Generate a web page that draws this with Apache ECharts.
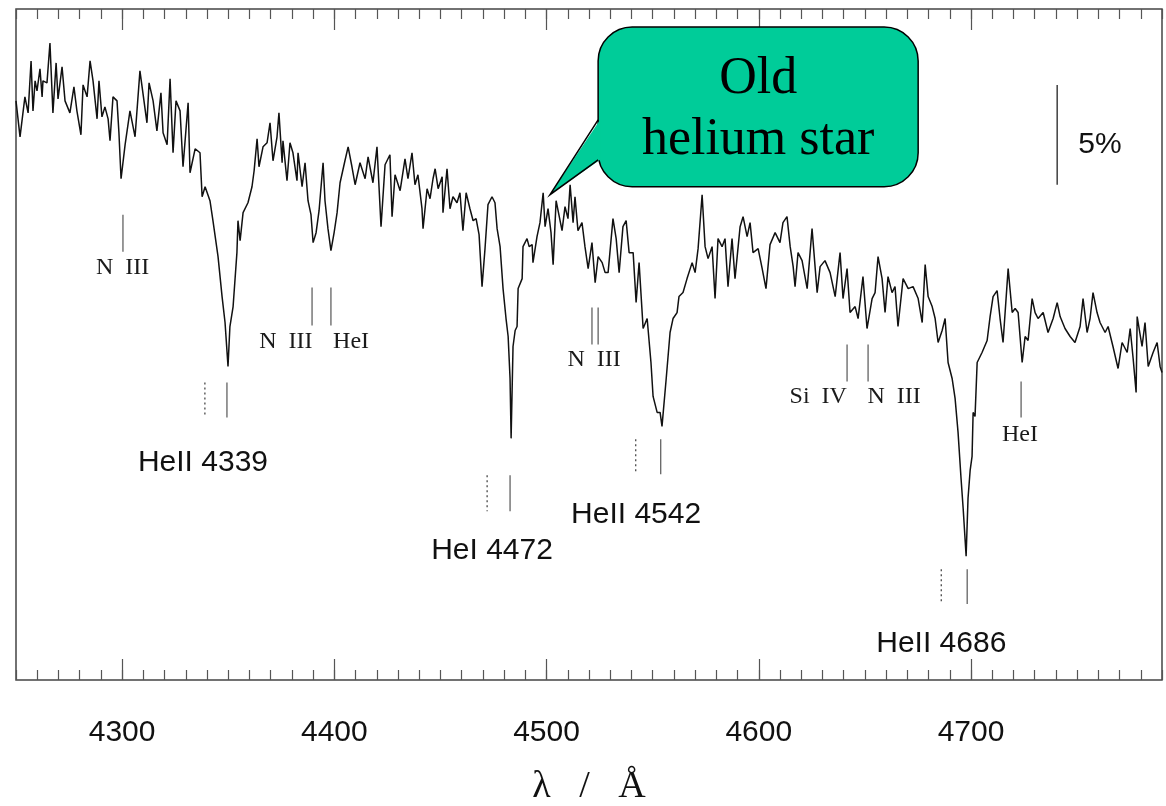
<!DOCTYPE html>
<html>
<head>
<meta charset="utf-8">
<script src="https://cdn.jsdelivr.net/npm/echarts@6/dist/echarts.min.js"></script>
<style>
html,body{margin:0;padding:0;background:#fff;}
#chart{width:1166px;height:806px;}
</style>
</head>
<body>
<div id="chart"></div>
<script>
// Normalised spectrum (wavelength in Angstrom, relative flux)
const wavelength = [
4250.0,4251.9,4254.2,4255.7,4257.1,4258.0,4259.0,4259.9,4261.3,4262.3,
4262.7,4264.6,4266.0,4267.4,4268.9,4269.8,4271.7,4273.1,4275.4,4277.3,
4278.7,4280.6,4281.6,4283.5,4284.9,4286.3,4288.2,4289.1,4290.5,4291.9,
4293.4,4294.3,4295.7,4297.6,4298.5,4299.5,4301.4,4303.7,4306.1,4308.4,
4311.7,4312.7,4314.6,4316.4,4318.3,4319.3,4321.2,4322.6,4324.0,4325.4,
4327.3,4328.7,4331.1,4332.0,4334.4,4336.7,4337.7,4339.1,4341.4,4342.8,
4345.2,4347.1,4348.5,4349.9,4350.8,4352.3,4354.1,4354.6,4355.6,4357.0,
4359.3,4361.2,4362.2,4363.6,4364.5,4366.4,4368.3,4369.7,4371.1,4373.0,
4373.9,4375.4,4375.8,4377.7,4379.1,4380.5,4382.4,4382.9,4384.8,4386.2,
4387.6,4389.0,4390.0,4391.4,4392.8,4394.7,4395.6,4397.0,4398.4,4399.9,
4401.3,4402.7,4405.0,4406.5,4408.3,4409.8,4412.1,4414.5,4415.9,4418.2,
4420.1,4422.0,4423.9,4426.2,4427.2,4428.6,4431.0,4433.3,4434.7,4436.6,
4438.0,4439.4,4441.3,4441.8,4443.7,4445.1,4446.5,4447.5,4448.9,4450.8,
4451.2,4453.1,4454.5,4455.9,4457.8,4459.2,4460.6,4462.1,4463.9,4465.4,
4466.8,4468.2,4469.6,4471.0,4472.4,4474.3,4475.7,4476.7,4478.1,4479.5,
4480.9,4481.9,4482.8,4483.3,4484.2,4485.2,4486.1,4486.6,4488.5,4488.9,
4490.8,4491.8,4493.2,4493.6,4495.5,4496.9,4498.4,4499.3,4500.7,4502.1,
4503.1,4504.5,4505.4,4507.3,4508.7,4510.1,4511.1,4512.5,4513.4,4514.8,
4516.7,4518.1,4519.6,4521.4,4522.9,4524.3,4526.2,4527.6,4529.0,4531.3,
4532.8,4534.2,4536.0,4537.5,4538.9,4540.8,4542.2,4543.6,4545.5,4547.4,
4549.2,4550.2,4552.1,4553.5,4554.4,4556.3,4558.2,4559.6,4561.5,4562.4,
4564.3,4566.2,4568.6,4570.0,4571.4,4573.3,4574.7,4576.1,4578.0,4579.4,
4580.8,4582.7,4584.1,4585.5,4587.4,4588.8,4591.2,4592.6,4594.5,4595.9,
4597.3,4599.7,4601.6,4603.4,4605.3,4607.7,4610.0,4611.4,4613.3,4614.8,
4616.2,4617.1,4618.5,4620.4,4622.8,4625.1,4627.5,4628.9,4631.2,4633.6,
4636.0,4638.3,4639.7,4641.6,4643.0,4645.4,4646.8,4649.1,4651.0,4653.4,
4654.8,4656.2,4658.1,4659.5,4660.9,4662.8,4664.2,4665.6,4668.0,4670.4,
4672.7,4675.1,4677.0,4678.4,4679.8,4681.7,4683.1,4684.5,4686.4,4687.8,
4689.2,4691.1,4692.5,4693.9,4695.3,4696.3,4697.7,4698.6,4699.6,4700.5,
4701.0,4701.9,4702.9,4705.2,4707.6,4709.0,4710.4,4712.3,4713.7,4715.1,
4717.5,4719.4,4720.8,4722.2,4724.1,4725.5,4726.9,4728.8,4730.2,4731.6,
4734.0,4736.3,4738.7,4740.6,4742.0,4744.3,4746.7,4749.0,4751.4,4752.8,
4754.7,4756.1,4757.5,4759.4,4760.8,4763.2,4764.6,4766.9,4769.3,4771.2,
4773.6,4775.0,4776.4,4777.8,4778.3,4780.6,4782.0,4783.5,4785.8,4787.7,
4789.1,4790.0
];
const flux = [
1.050,1.032,1.052,1.044,1.070,1.045,1.060,1.055,1.066,1.052,
1.060,1.059,1.079,1.044,1.069,1.051,1.067,1.050,1.044,1.057,
1.045,1.033,1.058,1.052,1.070,1.060,1.041,1.060,1.042,1.047,
1.041,1.030,1.052,1.050,1.034,1.011,1.028,1.045,1.032,1.065,
1.039,1.059,1.050,1.035,1.054,1.034,1.028,1.061,1.024,1.050,
1.045,1.017,1.049,1.014,1.026,1.024,1.002,1.007,1.000,0.990,
0.972,0.952,0.939,0.917,0.937,0.947,0.974,0.990,0.980,0.994,
0.999,1.007,1.015,1.031,1.017,1.027,1.029,1.039,1.020,1.032,
1.044,1.019,1.030,1.010,1.029,1.024,1.010,1.024,1.007,1.019,
1.000,0.993,0.979,0.984,0.995,1.019,1.000,0.986,0.975,0.984,
0.994,1.009,1.020,1.027,1.017,1.008,1.019,1.011,1.022,1.009,
1.027,0.987,1.018,1.023,0.992,1.013,1.005,1.021,1.011,1.024,
1.008,1.013,0.996,0.986,1.006,1.001,1.011,1.016,1.006,1.012,
0.994,1.016,0.996,1.002,0.999,1.004,0.985,1.004,0.996,0.990,
0.991,0.983,0.957,0.976,0.998,1.002,0.999,0.986,0.977,0.956,
0.941,0.932,0.911,0.881,0.927,0.935,0.937,0.956,0.961,0.977,
0.981,0.977,0.978,0.969,0.982,0.989,1.004,0.987,0.996,0.984,
0.968,1.000,0.999,0.985,0.997,0.991,1.008,0.989,1.002,0.985,
0.989,0.977,0.966,0.979,0.959,0.972,0.969,0.964,0.964,0.991,
0.981,0.964,0.987,0.990,0.974,0.974,0.949,0.969,0.936,0.941,
0.919,0.902,0.894,0.894,0.887,0.910,0.934,0.941,0.944,0.952,
0.954,0.961,0.969,0.964,0.976,1.003,0.977,0.971,0.977,0.951,
0.981,0.977,0.981,0.957,0.981,0.961,0.987,0.992,0.982,0.989,
0.974,0.976,0.966,0.956,0.978,0.984,0.979,0.989,0.992,0.977,
0.967,0.957,0.974,0.970,0.956,0.986,0.954,0.967,0.970,0.964,
0.952,0.974,0.951,0.966,0.944,0.947,0.941,0.962,0.936,0.951,
0.954,0.972,0.961,0.944,0.962,0.954,0.957,0.937,0.961,0.956,
0.957,0.951,0.939,0.968,0.952,0.947,0.941,0.929,0.935,0.941,
0.919,0.911,0.901,0.884,0.861,0.846,0.822,0.851,0.865,0.872,
0.894,0.892,0.919,0.924,0.930,0.942,0.952,0.955,0.941,0.929,
0.966,0.944,0.946,0.944,0.919,0.932,0.930,0.951,0.944,0.941,
0.944,0.934,0.941,0.949,0.942,0.936,0.932,0.929,0.937,0.951,
0.934,0.941,0.954,0.944,0.939,0.934,0.937,0.927,0.916,0.929,
0.924,0.936,0.921,0.904,0.942,0.927,0.939,0.917,0.924,0.929,
0.917,0.914
];

const majorTicks = [4300, 4400, 4500, 4600, 4700];

// Line identifications: [wavelength, upper flux, lower flux]
const observedMarks = [
  [4300.4, 0.993, 0.9745],
  [4389.5, 0.9565, 0.9375],
  [4398.4, 0.9565, 0.9375],
  [4349.4, 0.909, 0.8915],
  [4482.8, 0.8625, 0.8445],
  [4521.4, 0.9465, 0.928],
  [4524.3, 0.9465, 0.928],
  [4553.8, 0.8805, 0.863],
  [4641.6, 0.928, 0.9095],
  [4651.5, 0.928, 0.9095],
  [4723.6, 0.9095, 0.8915],
  [4698.2, 0.8155, 0.798]
];
// Rest wavelengths of the strong helium lines
const restMarks = [
  [4339.0, 0.909, 0.8915],
  [4472.0, 0.8625, 0.8445],
  [4542.0, 0.8805, 0.863],
  [4686.0, 0.8155, 0.798]
];
// Small line labels: [text, wavelength, flux]
const ionLabels = [
  ['N  III', 4300.2, 0.9665],
  ['N  III', 4377.2, 0.9295],
  ['HeI', 4407.9, 0.9295],
  ['N  III', 4522.4, 0.9205],
  ['Si  IV', 4628.0, 0.902],
  ['N  III', 4663.8, 0.902],
  ['HeI', 4723.1, 0.883]
];
// Strong line labels: [text, wavelength, flux]
const lineLabels = [
  ['HeII 4339', 4338.1, 0.869],
  ['HeI 4472', 4474.3, 0.8245],
  ['HeII 4542', 4542.2, 0.843],
  ['HeII 4686', 4686.0, 0.778]
];
// 5 % flux scale bar: [wavelength, upper flux, lower flux]
const scaleBar = [4740.6, 1.058, 1.008];
const scaleLabel = ['5%', 4760.8, 1.028];

// Speech bubble: box corners, pointer tip, pointer base on the box edge
const bubbleBox = [4524.3, 1.087, 4675.1, 1.007];
const bubbleTip = [4501.6, 1.003];
const bubbleBase = [1.0405, 1.0205];
const bubbleLines = ['Old', 'helium star'];

const chart = echarts.init(document.getElementById('chart'), null, {renderer: 'canvas'});

const tickColor = '#555';
function xAxisDef(position, length, opts) {
  return Object.assign({
    type: 'value', gridIndex: 0, position: position, min: 4250, max: 4790,
    axisLine: {show: false}, splitLine: {show: false},
    axisTick: {show: true, inside: true, length: length, lineStyle: {color: tickColor, width: 1.2}},
    axisLabel: {show: false}
  }, opts);
}

const series = [];
series.push({
  type: 'line', name: 'spectrum', xAxisIndex: 0, yAxisIndex: 0,
  data: wavelength.map((w, i) => [w, flux[i]]),
  symbol: 'none', showSymbol: false, silent: true, z: 3,
  lineStyle: {color: '#111', width: 1.5}
});
observedMarks.forEach(m => series.push({
  type: 'line', xAxisIndex: 0, data: [[m[0], m[1]], [m[0], m[2]]],
  symbol: 'none', silent: true, lineStyle: {color: '#555', width: 1.2}
}));
restMarks.forEach(m => series.push({
  type: 'line', xAxisIndex: 0, data: [[m[0], m[1]], [m[0], m[2]]],
  symbol: 'none', silent: true, lineStyle: {color: '#555', width: 1.4, type: [2, 3]}
}));
series.push({
  type: 'line', xAxisIndex: 0, data: [[scaleBar[0], scaleBar[1]], [scaleBar[0], scaleBar[2]]],
  symbol: 'none', silent: true, lineStyle: {color: '#222', width: 1.3}
});
series.push({
  type: 'scatter', xAxisIndex: 0, symbolSize: 0, silent: true,
  itemStyle: {opacity: 1},
  data: ionLabels.map(l => ({name: l[0], value: [l[1], l[2]]})),
  label: {show: true, position: 'inside', formatter: '{b}', opacity: 1,
    fontFamily: 'Liberation Serif', fontSize: 24, color: '#1a1a1a'}
});
series.push({
  type: 'scatter', xAxisIndex: 0, symbolSize: 0, silent: true,
  itemStyle: {opacity: 1},
  data: lineLabels.concat([scaleLabel]).map(l => ({name: l[0], value: [l[1], l[2]]})),
  label: {show: true, position: 'inside', formatter: '{b}', opacity: 1,
    fontFamily: 'Liberation Sans', fontSize: 30, color: '#111'}
});
series.push({
  type: 'custom', xAxisIndex: 0, silent: true, z: 10,
  data: [[bubbleBox[0], bubbleBox[1]]],
  renderItem: function (params, api) {
    const p0 = api.coord([bubbleBox[0], bubbleBox[1]]);
    const p1 = api.coord([bubbleBox[2], bubbleBox[3]]);
    const tip = api.coord(bubbleTip);
    const b1 = api.coord([bubbleBox[0], bubbleBase[0]]);
    const b2 = api.coord([bubbleBox[0], bubbleBase[1]]);
    const w = p1[0] - p0[0], h = p1[1] - p0[1];
    const fill = '#00cc99';
    return {
      type: 'group',
      children: [
        {type: 'rect', shape: {x: p0[0], y: p0[1], width: w, height: h, r: 34},
          style: {fill: fill, stroke: '#000', lineWidth: 1.5}},
        {type: 'polygon', shape: {points: [[b1[0] + 2, b1[1]], tip, [b2[0] + 2, b2[1]]]},
          style: {fill: fill, stroke: null}},
        {type: 'polyline', shape: {points: [b1, tip, b2]},
          style: {fill: null, stroke: '#000', lineWidth: 1.5}},
        {type: 'text', style: {text: bubbleLines[0], x: p0[0] + w / 2, y: p0[1] + h * 0.325,
          align: 'center', verticalAlign: 'middle',
          font: '52px "Liberation Serif"', fill: '#000'}},
        {type: 'text', style: {text: bubbleLines[1], x: p0[0] + w / 2, y: p0[1] + h * 0.71,
          align: 'center', verticalAlign: 'middle',
          font: '52px "Liberation Serif"', fill: '#000'}}
      ]
    };
  }
});

chart.setOption({
  animation: false,
  backgroundColor: '#fff',
  grid: {left: 16, right: 4, top: 9, bottom: 126, show: true, outerBoundsMode: 'none',
    containLabel: false,
    borderColor: '#444', borderWidth: 1.5, backgroundColor: 'transparent'},
  xAxis: [
    xAxisDef('bottom', 21, {
      axisTick: {show: true, inside: true, length: 21, customValues: majorTicks,
        lineStyle: {color: tickColor, width: 1.2}},
      axisLabel: {show: true, customValues: majorTicks, margin: 38,
        formatter: v => String(v),
        fontFamily: 'Liberation Sans', fontSize: 30, color: '#111'},
      name: 'λ   /   Å', nameLocation: 'middle', nameGap: 88,
      nameTextStyle: {fontFamily: 'Liberation Serif', fontSize: 38, color: '#111'}
    }),
    xAxisDef('bottom', 10, {interval: 10}),
    xAxisDef('top', 21, {
      axisTick: {show: true, inside: true, length: 21, customValues: majorTicks,
        lineStyle: {color: tickColor, width: 1.2}}
    }),
    xAxisDef('top', 10, {interval: 10})
  ],
  yAxis: [{type: 'value', min: 0.76, max: 1.096, show: false}],
  series: series
});
</script>
</body>
</html>
